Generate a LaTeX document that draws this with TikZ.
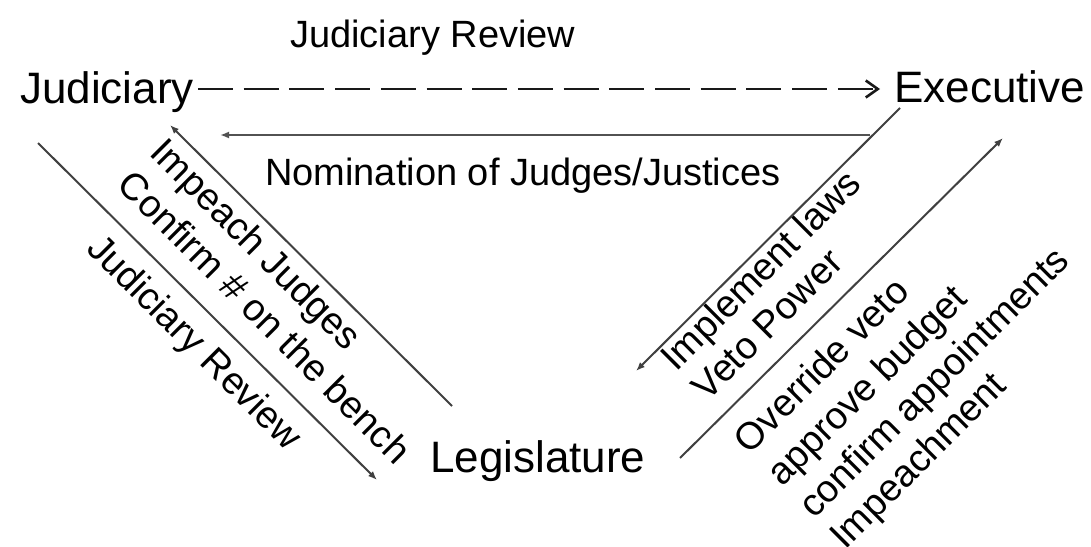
\documentclass[tikz,border=0pt]{standalone}
\usepackage{fontspec}
\setmainfont{Liberation Sans}
\usetikzlibrary{arrows.meta}
\tikzset{
  big/.style={font=\fontsize{44}{50}\selectfont, inner sep=0pt, text=black},
  small/.style={font=\fontsize{38}{44}\selectfont, inner sep=0pt, text=black},
  conn/.style={draw=black!75, line width=2pt, -{Latex[length=9pt,width=7pt]}},
  dashconn/.style={draw=black!90, line width=2.6pt, dash pattern=on 35pt off 10.7pt,
    -{Straight Barb[length=12pt,width=17pt,line width=2.6pt]}},
}
\begin{document}
\begin{tikzpicture}[x=1pt,y=-1pt]
\useasboundingbox[fill=white] (0,0) rectangle (1091,546);

% main nodes
\node[big, anchor=base west] (jud) at (20,103) {Judiciary};
\node[big, anchor=base west] (exe) at (894,102) {Executive};
\node[big, anchor=base west] (leg) at (430,472) {Legislature};

% horizontal labels
\node[small, anchor=base west] (jrtop) at (290,47) {Judiciary Review};
\node[small, anchor=base west] (nom) at (265,185) {Nomination of Judges/Justices};

% connector end points
\coordinate (dS) at (jud.east |- 0,89);
\coordinate (dE) at (880,89);
\coordinate (nS) at (870,135);
\coordinate (nE) at (220,135);
\coordinate (cS) at (452,406);
\coordinate (cE) at (170,125);
\coordinate (dlS) at (38,143);
\coordinate (dlE) at (377,480);
\coordinate (aS) at (900,108);
\coordinate (aE) at (636,371);
\coordinate (bS) at (680,458);
\coordinate (bE) at (1003,138);

% connectors
\draw[dashconn] ([xshift=4pt]dS) -- (dE);
\draw[conn, line width=2.4pt, draw=black!68] (nS) -- (nE);
\draw[conn] (cS) -- (cE);
\draw[conn] (dlS) -- (dlE);
\draw[conn] (aS) -- (aE);
\draw[conn] (bS) -- (bE);

% left diagonal labels
\node[small, anchor=base, rotate=-45] (limp) at (247,253) {Impeach Judges};
\node[small, anchor=base, rotate=-45] (lconf) at (255.4,326.4) {Confirm \# on the bench};
\node[small, anchor=base, rotate=-45] (ljr) at (186,351) {Judiciary Review};

% right diagonal labels
\node[small, anchor=base, rotate=45] (rimpl) at (769.8,279.2) {Implement laws};
\node[small, anchor=base, rotate=45] (rveto) at (776.3,333.7) {Veto Power};
\node[small, anchor=base, rotate=45] (rover) at (830.5,374.5) {Override veto};
\node[small, anchor=base, rotate=45] (rappr) at (875.9,394.2) {approve budget};
\node[small, anchor=base, rotate=45] (rconf) at (942.9,391.1) {confirm appointments};
\node[small, anchor=base, rotate=45] (rimpe) at (926.9,469.1) {Impeachment};
\end{tikzpicture}
\end{document}
